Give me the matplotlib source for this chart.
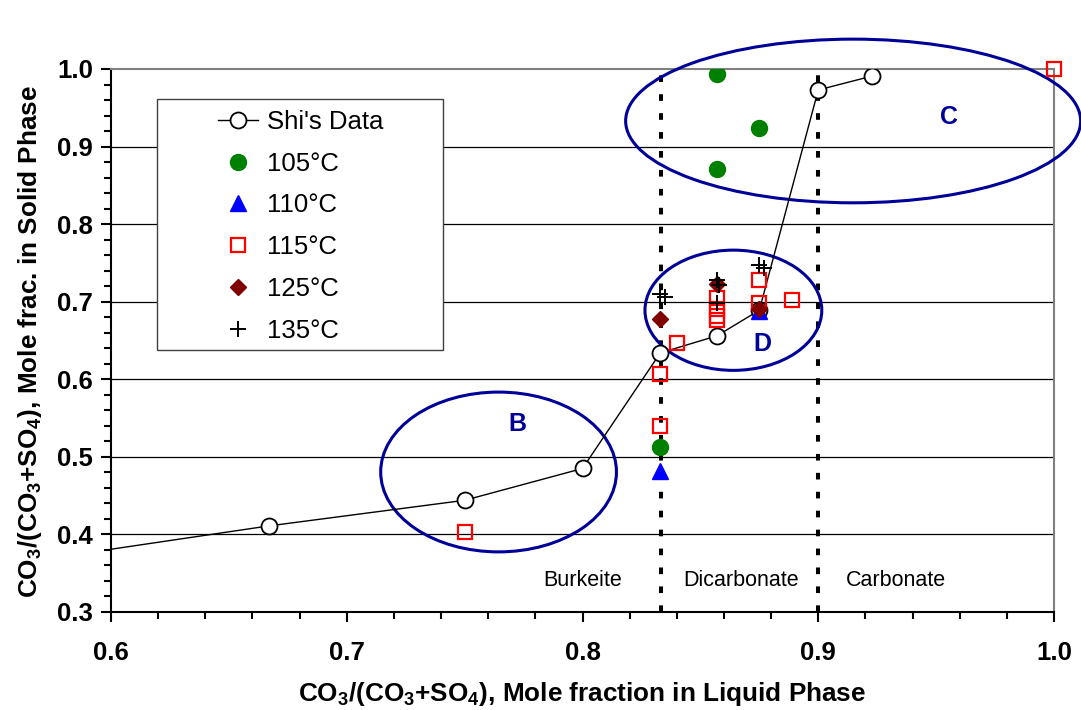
import matplotlib
matplotlib.use("Agg")
import matplotlib.pyplot as plt
from matplotlib.patches import Ellipse, Rectangle
from matplotlib.ticker import MultipleLocator, FormatStrFormatter

plt.rcParams['font.family'] = ['Liberation Sans', 'DejaVu Sans']
plt.rcParams['mathtext.fontset'] = 'custom'
plt.rcParams['mathtext.rm'] = 'Liberation Sans'
plt.rcParams['mathtext.bf'] = 'Liberation Sans:bold'

# Data
shi_x = [0.5, 0.667, 0.75, 0.80, 0.833, 0.857, 0.875, 0.90, 0.923]
shi_y = [0.336, 0.411, 0.444, 0.485, 0.634, 0.656, 0.689, 0.973, 0.991]

t105_x = [0.857, 0.875, 0.857, 0.833]
t105_y = [0.994, 0.924, 0.871, 0.513]

t110_x = [0.833, 0.875]
t110_y = [0.482, 0.688]

t115_x = [0.75, 0.833, 0.833, 0.84, 0.857, 0.857, 0.857, 0.857, 0.875, 0.875, 0.889, 1.0]
t115_y = [0.403, 0.607, 0.540, 0.647, 0.705, 0.690, 0.682, 0.677, 0.728, 0.698, 0.702, 1.0]

t125_x = [0.833, 0.857, 0.875]
t125_y = [0.678, 0.723, 0.691]

t135_x = [0.833, 0.835, 0.857, 0.858, 0.857, 0.875, 0.877]
t135_y = [0.710, 0.706, 0.728, 0.722, 0.698, 0.747, 0.743]

boundaries = [0.8333, 0.90]
regions = ["Burkeite", "Dicarbonate", "Carbonate"]
region_x = [0.800, 0.8674, 0.933]
region_y = 0.341

ell_cx = [0.7644, 0.9148, 0.8640]
ell_cy = [0.4805, 0.933, 0.689]
ell_w = [0.100, 0.193, 0.075]
ell_h = [0.206, 0.211, 0.155]
ell_lab = ["B", "C", "D"]
ell_lab_x = [0.7725, 0.9555, 0.8763]
ell_lab_y = [0.542, 0.938, 0.645]

fig = plt.figure(figsize=(10.81, 7.10), dpi=100)
ax = fig.add_axes([111/1081, 1 - 612/710, (1054 - 111)/1081, (612 - 69)/710])

ax.set_xlim(0.6, 1.0)
ax.set_ylim(0.3, 1.0)

for g in [0.4, 0.5, 0.6, 0.7, 0.8, 0.9]:
    ax.axhline(g, color='black', lw=0.9, zorder=1)

for b in boundaries:
    ax.axvline(b, color='black', lw=2.9, linestyle=(0, (1.65, 3.05)), zorder=2)

for r, rx in zip(regions, region_x):
    ax.text(rx, region_y, r, ha='center', va='center', fontsize=15.5, zorder=3)

for cx, cy, w, h in zip(ell_cx, ell_cy, ell_w, ell_h):
    e = Ellipse((cx, cy), w, h, fill=False, edgecolor='#000099', lw=2.2,
                zorder=3, clip_on=False)
    ax.add_patch(e)
for lab, lx, ly in zip(ell_lab, ell_lab_x, ell_lab_y):
    ax.text(lx, ly, lab, color='#000099', fontsize=18, fontweight='bold',
            ha='center', va='center', zorder=3)

h_shi, = ax.plot(shi_x, shi_y, '-o', color='black', lw=1.0, ms=11.5,
                 mfc='white', mec='black', mew=1.3, zorder=4, label="Shi's Data")
h105, = ax.plot(t105_x, t105_y, 'o', ls='none', color='#008000', ms=11.5,
                zorder=5, label='105°C')
h110, = ax.plot(t110_x, t110_y, '^', ls='none', color='#0000FF', ms=12,
                zorder=5, label='110°C')
h115, = ax.plot(t115_x, t115_y, 's', ls='none', mfc='none', mec='#FF0000',
                mew=1.6, ms=10, zorder=6, label='115°C', clip_on=False)
h125, = ax.plot(t125_x, t125_y, 'D', ls='none', color='#800000', ms=8.5,
                zorder=7, label='125°C')
h135, = ax.plot(t135_x, t135_y, '+', ls='none', color='black', ms=11,
                mew=1.4, zorder=8, label='135°C')

for s in ['left', 'bottom']:
    ax.spines[s].set_color('black')
    ax.spines[s].set_linewidth(1.5)
for s in ['top', 'right']:
    ax.spines[s].set_color('#808080')
    ax.spines[s].set_linewidth(1.5)

ax.xaxis.set_major_locator(MultipleLocator(0.1))
ax.xaxis.set_minor_locator(MultipleLocator(0.02))
ax.yaxis.set_major_locator(MultipleLocator(0.1))
ax.yaxis.set_minor_locator(MultipleLocator(0.02))
ax.tick_params(axis='both', which='major', direction='out', length=7, width=1.5,
               labelsize=18.5)
ax.tick_params(axis='both', which='minor', direction='out', length=5, width=1.5)
ax.tick_params(axis='x', which='major', pad=14)
ax.tick_params(axis='y', which='major', pad=6)
ax.xaxis.set_major_formatter(FormatStrFormatter('%.1f'))
ax.yaxis.set_major_formatter(FormatStrFormatter('%.1f'))
for lbl in ax.get_xticklabels() + ax.get_yticklabels():
    lbl.set_fontweight('bold')

fig.text(582/1081, 1 - 694/710,
         r"CO$_\mathbf{3}$/(CO$_\mathbf{3}$+SO$_\mathbf{4}$), Mole fraction in Liquid Phase",
         ha='center', va='center', fontsize=18.8, fontweight='bold')
fig.text(30/1081, 1 - 342/710,
         r"CO$_\mathbf{3}$/(CO$_\mathbf{3}$+SO$_\mathbf{4}$), Mole frac. in Solid Phase",
         ha='center', va='center', fontsize=18.8, fontweight='bold', rotation=90)

rect = Rectangle((157/1081, 1 - 350/710), (443 - 157)/1081, (350 - 99)/710,
                 transform=fig.transFigure, facecolor='white', edgecolor='#404040',
                 lw=1.0, zorder=9)
rect.set_clip_on(False)
ax.add_patch(rect)
leg = ax.legend(handles=[h_shi, h105, h110, h115, h125, h135],
                loc='upper left', bbox_to_anchor=(218/1081, 1 - 110/710),
                bbox_transform=fig.transFigure, frameon=False, fontsize=18.5,
                borderpad=0, borderaxespad=0, handlelength=1.56,
                handletextpad=0.35, labelspacing=0.69, numpoints=1)
leg.set_zorder(10)

fig.savefig("out.png", dpi=100)
